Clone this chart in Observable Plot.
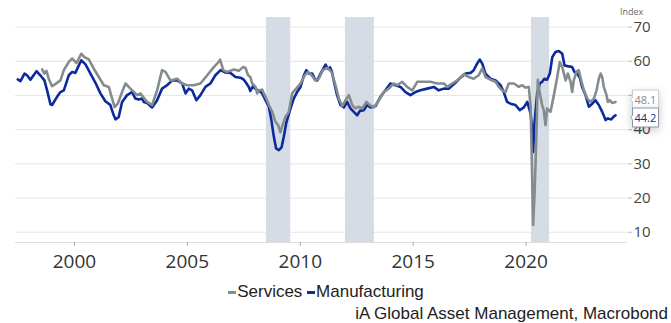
<!DOCTYPE html>
<html><head><meta charset="utf-8">
<script src="https://cdn.jsdelivr.net/npm/d3@7"></script>
<script src="https://cdn.jsdelivr.net/npm/@observablehq/plot@0.6"></script>
<style>
body{margin:0;background:#fff;}
#wrap{position:relative;width:671px;height:323px;overflow:hidden;font-family:"Liberation Sans",Arial,sans-serif;}
#chart{position:absolute;left:0;top:0;}
#legend{position:absolute;top:282px;left:0;width:652px;text-align:center;font-size:17px;color:#222;white-space:nowrap;}
#legend .sw{display:inline-block;width:8px;height:3px;vertical-align:middle;margin-right:1px;}
#caption{position:absolute;top:304px;right:3px;font-size:17px;color:#222;white-space:nowrap;}
#index{position:absolute;top:5px;left:620px;font-size:9px;color:#666;font-family:"Open Sans",sans-serif;}
</style></head>
<body><div id="wrap"><div id="chart"></div><div id="index"></div><div id="legend"></div><div id="caption"></div></div>
<script>
const seriesNames = ["Services", "Manufacturing"];
const seriesColors = ["#848c8f", "#0d2a9c"];
const unitLabel = "Index";
const captionText = "iA Global Asset Management, Macrobond";
const xTicks = [2000, 2005, 2010, 2015, 2020];
const yTicks = [10, 20, 30, 40, 50, 60, 70];
const recessionStart = [2008.5, 2012.0, 2020.24];
const recessionEnd = [2009.58, 2013.28, 2021.04];

const mfgT = [1997.49,1997.61,1997.79,1997.90,1998.05,1998.32,1998.49,1998.67,1998.79,1998.94,1999.01,1999.23,1999.38,1999.53,1999.75,1999.90,2000.04,2000.16,2000.30,2000.49,2000.71,2000.93,2001.15,2001.37,2001.59,2001.74,2001.82,2001.96,2002.11,2002.33,2002.55,2002.70,2002.85,2003.00,2003.07,2003.22,2003.44,2003.66,2003.88,2004.10,2004.33,2004.55,2004.77,2004.92,2005.06,2005.21,2005.40,2005.58,2005.80,2006.02,2006.24,2006.47,2006.69,2006.91,2007.13,2007.35,2007.50,2007.60,2007.72,2007.79,2007.90,2008.05,2008.16,2008.31,2008.46,2008.61,2008.72,2008.83,2008.93,2009.05,2009.17,2009.27,2009.39,2009.57,2009.71,2009.86,2010.01,2010.16,2010.27,2010.38,2010.53,2010.64,2010.75,2010.94,2011.12,2011.22,2011.32,2011.40,2011.50,2011.63,2011.78,2011.93,2012.08,2012.22,2012.37,2012.52,2012.64,2012.81,2012.96,2013.11,2013.33,2013.55,2013.77,2013.99,2014.22,2014.44,2014.66,2014.88,2015.10,2015.32,2015.62,2015.91,2016.13,2016.36,2016.58,2016.87,2017.09,2017.32,2017.54,2017.68,2017.83,2017.95,2018.06,2018.20,2018.42,2018.65,2018.87,2019.01,2019.16,2019.31,2019.53,2019.72,2019.90,2020.05,2020.20,2020.27,2020.31,2020.37,2020.49,2020.61,2020.71,2020.81,2020.93,2021.05,2021.16,2021.30,2021.45,2021.60,2021.70,2021.89,2022.04,2022.14,2022.26,2022.38,2022.48,2022.63,2022.78,2022.93,2023.07,2023.22,2023.37,2023.52,2023.62,2023.77,2023.89,2023.96];
const mfgV = [54.7,54.2,56.4,55.9,54.6,57.1,55.9,54.4,51.5,47.4,47.2,49.6,51.0,51.5,55.9,56.9,56.6,58.3,60.3,59.1,56.4,53.7,50.6,48.3,47.2,44.2,43.0,43.7,48.1,50.1,51.0,49.1,48.8,49.1,48.1,47.8,46.5,48.6,52.0,53.0,54.4,54.4,53.5,50.6,52.0,51.5,48.6,50.1,52.5,53.5,55.9,57.4,56.7,56.6,55.4,55.2,54.6,53.7,52.5,51.3,52.7,51.7,51.5,50.6,48.6,46.7,42.8,37.9,34.5,34.0,34.8,37.9,42.3,46.2,49.1,51.0,52.5,55.9,57.4,56.4,56.4,54.9,54.4,56.9,59.0,57.8,58.2,57.0,53.8,50.1,47.2,46.5,48.1,46.2,45.2,44.2,45.5,45.7,47.2,46.5,46.9,49.6,51.5,53.5,53.0,52.5,51.0,50.1,51.0,51.5,52.0,52.5,51.5,52.0,52.0,53.7,55.2,56.4,56.6,57.4,59.3,60.5,59.3,56.4,54.9,54.4,53.0,51.0,48.1,47.6,47.2,45.7,46.5,48.1,44.7,39.9,33.5,41.8,50.6,53.5,54.0,54.9,54.6,56.4,61.2,62.7,63.0,62.2,58.8,58.5,58.3,56.9,56.4,55.2,52.5,50.1,46.7,47.6,48.6,47.2,45.2,42.8,43.3,43.0,43.9,44.2];

const svcT = [1998.57,1998.67,1998.76,1998.86,1999.01,1999.23,1999.38,1999.53,1999.75,1999.90,2000.09,2000.30,2000.44,2000.63,2000.85,2001.08,2001.30,2001.52,2001.67,2001.78,2001.92,2002.11,2002.26,2002.48,2002.78,2002.92,2003.22,2003.44,2003.66,2003.88,2004.03,2004.25,2004.55,2004.77,2004.99,2005.28,2005.58,2005.88,2006.17,2006.39,2006.45,2006.59,2006.76,2007.06,2007.28,2007.46,2007.57,2007.69,2007.79,2007.87,2008.02,2008.09,2008.16,2008.31,2008.46,2008.61,2008.76,2008.90,2009.02,2009.12,2009.22,2009.34,2009.49,2009.64,2009.82,2010.01,2010.20,2010.35,2010.50,2010.67,2010.82,2011.00,2011.19,2011.38,2011.56,2011.71,2011.86,2012.00,2012.15,2012.30,2012.44,2012.59,2012.74,2012.93,2013.08,2013.26,2013.48,2013.70,2013.92,2014.14,2014.29,2014.51,2014.73,2014.96,2015.18,2015.47,2015.77,2016.06,2016.36,2016.51,2016.73,2016.95,2017.24,2017.46,2017.68,2017.90,2018.06,2018.20,2018.42,2018.65,2018.79,2018.94,2019.09,2019.23,2019.46,2019.68,2019.83,2019.97,2020.12,2020.20,2020.27,2020.31,2020.37,2020.45,2020.52,2020.61,2020.71,2020.78,2020.86,2020.93,2021.08,2021.23,2021.38,2021.49,2021.60,2021.75,2021.85,2021.97,2022.04,2022.11,2022.23,2022.33,2022.44,2022.56,2022.71,2022.85,2023.00,2023.12,2023.22,2023.30,2023.37,2023.44,2023.56,2023.62,2023.71,2023.81,2023.96];
const svcV = [57.6,56.4,57.2,54.9,52.7,53.7,54.4,57.4,59.8,60.8,59.5,62.2,61.2,60.6,57.9,55.4,53.0,52.5,49.1,46.6,47.6,51.0,53.5,52.0,50.1,50.6,48.1,47.2,51.5,57.4,56.9,54.4,54.9,53.5,53.0,53.0,53.5,55.9,58.3,59.8,60.5,57.4,56.9,57.6,57.2,58.3,58.1,55.9,55.4,53.5,52.5,50.6,51.5,51.7,49.6,47.2,45.2,42.3,41.3,39.2,41.3,43.7,45.2,50.6,52.0,53.5,55.9,56.9,55.9,54.4,54.9,57.4,58.1,56.9,53.0,49.1,46.9,48.6,50.1,47.2,46.2,46.7,46.2,48.1,47.2,46.5,48.6,51.0,52.0,53.5,53.0,54.0,52.5,51.5,54.0,54.0,54.0,53.5,53.5,52.5,53.5,54.4,56.2,55.4,54.9,55.9,57.9,55.4,54.6,54.0,52.5,51.5,51.0,53.5,53.5,52.5,53.0,52.3,52.5,46.7,25.3,12.1,20.4,36.9,54.6,50.6,47.2,45.7,41.3,46.2,45.2,50.1,55.4,59.8,58.3,54.4,56.4,54.0,51.0,54.4,56.9,57.4,54.4,51.5,49.1,48.1,49.1,51.5,54.9,56.4,55.4,52.5,50.1,48.1,48.6,47.8,48.1];

const svc = svcT.map((t, i) => ({t, v: svcV[i], s: seriesNames[0]}));
const mfg = mfgT.map((t, i) => ({t, v: mfgV[i], s: seriesNames[1]}));
const rec = recessionStart.map((a, i) => ({a, b: recessionEnd[i]}));
const lastLabels = [
  {v: svc[svc.length - 1].v, c: seriesColors[0], b: "#c8cccf", dy: -2},
  {v: mfg[mfg.length - 1].v, c: seriesColors[1], b: "#8a93a8", dy: 2}
];

const chart = Plot.plot({
  width: 671, height: 280,
  marginTop: 17, marginBottom: 38, marginLeft: 15, marginRight: 44,
  style: {fontFamily: "'Open Sans', sans-serif", background: "transparent"},
  x: {type: "linear", domain: [1997.39, 2024.49]},
  y: {domain: [7.0, 72.8]},
  marks: [
    Plot.ruleY(yTicks, {stroke: "#e6e6e6", strokeWidth: 1}),
    Plot.rect(rec, {x1: "a", x2: "b", fill: "#d6dce5"}),
    Plot.ruleY([7.0], {stroke: "#dddddd", strokeWidth: 1}),
    Plot.axisX({ticks: xTicks, tickFormat: d => String(d), tickSize: 4, tickPadding: 8, fontSize: 19, stroke: "#aaa", color: "#333", label: null}),
    Plot.axisY({anchor: "right", ticks: yTicks, tickSize: 4, tickPadding: 2, fontSize: 15, color: "#444", stroke: "#bbb", label: null}),
    Plot.line(mfg, {x: "t", y: "v", stroke: seriesColors[1], strokeWidth: 2.6, curve: "linear"}),
    Plot.line(svc, {x: "t", y: "v", stroke: seriesColors[0], strokeWidth: 2.6, curve: "linear"}),
    ...lastLabels.map(d => Plot.tip([d], {
      y: "v", frameAnchor: "right", dx: 3, dy: d.dy, anchor: "left",
      title: x => x.v.toFixed(1), fontSize: 11, textPadding: 2, pointerSize: 4,
      stroke: d.b, fill: "white"
    }))
  ]
});
document.getElementById("chart").appendChild(chart);
// text colors of the value labels
const tips = chart.querySelectorAll('g[aria-label="tip"]');
tips.forEach((g, i) => { g.style.color = lastLabels[i].c; g.querySelectorAll("text").forEach(t => t.setAttribute("fill", lastLabels[i].c)); });

document.getElementById("index").textContent = unitLabel;
document.getElementById("legend").innerHTML = seriesNames.map((n, i) =>
  `<span class="sw" style="background:${seriesColors[i]}"></span>${n}`).join(" ");
document.getElementById("caption").textContent = captionText;
</script></body></html>
